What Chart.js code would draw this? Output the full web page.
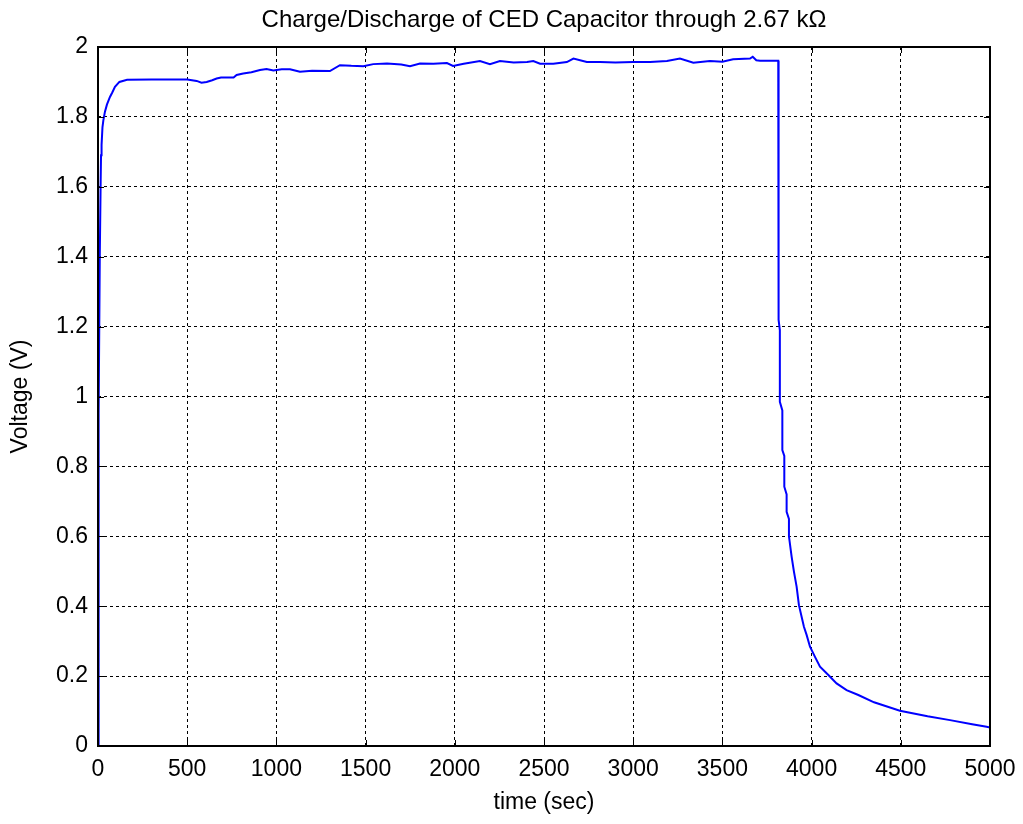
<!DOCTYPE html>
<html>
<head>
<meta charset="utf-8">
<script src="https://cdn.jsdelivr.net/npm/chart.js@4/dist/chart.umd.min.js"></script>
<style>
  html, body { margin: 0; padding: 0; background: #fff; }
  #wrap { width: 1023px; height: 824px; }
</style>
</head>
<body>
<div id="wrap"><canvas id="capChart" width="1023" height="824"></canvas></div>
<script>
const timeSec = [
  0, 2, 5, 10, 15, 17, 20, 25, 30, 39, 50, 67, 80, 95, 120, 163,
  300, 500, 553, 580, 609, 640, 665, 690, 760, 777, 814, 860, 908, 945, 983,
  1030, 1076, 1132, 1200, 1300, 1356, 1420, 1487, 1543, 1620, 1700, 1749,
  1805, 1880, 1956, 1990, 2050, 2141, 2197, 2253, 2330, 2405, 2440, 2478,
  2552, 2628, 2665, 2740, 2814, 2900, 3000, 3095, 3189, 3262, 3337, 3430,
  3500, 3560, 3655, 3670, 3690, 3711, 3813,
  3814, 3816, 3822, 3822, 3836, 3836, 3847, 3847, 3860, 3860, 3873, 3873,
  3888, 3901, 3916, 3929, 3944, 3957, 3972, 3991, 4019, 4047, 4094, 4140,
  4196, 4262, 4350, 4495, 4650, 4776, 4900, 4981, 5000
];
const voltage = [
  0.0, 0.45, 0.95, 1.40, 1.62, 1.69, 1.72, 1.77, 1.79, 1.815, 1.835, 1.857, 1.870, 1.886, 1.900, 1.906,
  1.907, 1.907, 1.903, 1.898, 1.900, 1.905, 1.910, 1.913, 1.913, 1.920, 1.924, 1.928, 1.934, 1.937, 1.933,
  1.936, 1.936, 1.929, 1.932, 1.931, 1.948, 1.946, 1.945, 1.951, 1.953, 1.950, 1.945,
  1.953, 1.952, 1.954, 1.946, 1.952, 1.960, 1.951, 1.960, 1.956, 1.957, 1.960, 1.952,
  1.952, 1.957, 1.967, 1.957, 1.957, 1.956, 1.957, 1.957, 1.960, 1.967, 1.955, 1.960,
  1.958, 1.965, 1.967, 1.972, 1.962, 1.961, 1.961,
  1.60, 1.219, 1.19, 0.985, 0.96, 0.847, 0.83, 0.742, 0.72, 0.670, 0.65, 0.600,
  0.542, 0.499, 0.456, 0.403, 0.370, 0.341, 0.318, 0.284, 0.255, 0.227, 0.203, 0.179,
  0.160, 0.146, 0.125, 0.101, 0.085, 0.074, 0.062, 0.055, 0.053
];

const xTicksMax = 5000;
const xTickStep = 500;
const yTicksMax = 2;
const yTickStep = 0.2;
const chartTitle = 'Charge/Discharge of CED Capacitor through 2.67 k\u03A9';

const FONT = "'Liberation Sans', Arial, Helvetica, sans-serif";

// box around the axes, inward tick marks and a title centred on the axes (MATLAB style)
const boxPlugin = {
  id: 'matlabBox',
  afterDraw(chart) {
    const { ctx, chartArea: a, scales } = chart;
    ctx.save();
    ctx.strokeStyle = '#000';
    ctx.lineWidth = 1;
    ctx.setLineDash([]);
    ctx.beginPath();
    const tk = 6;
    scales.x.ticks.forEach(t => {
      const px = Math.round(scales.x.getPixelForValue(t.value)) + 0.5;
      ctx.moveTo(px, a.bottom); ctx.lineTo(px, a.bottom - tk);
      ctx.moveTo(px, a.top); ctx.lineTo(px, a.top + tk);
    });
    scales.y.ticks.forEach(t => {
      const py = Math.round(scales.y.getPixelForValue(t.value)) + 0.5;
      ctx.moveTo(a.left, py); ctx.lineTo(a.left + tk, py);
      ctx.moveTo(a.right, py); ctx.lineTo(a.right - tk, py);
    });
    ctx.stroke();
    ctx.lineWidth = 2;
    ctx.strokeRect(a.left, a.top, a.right - a.left, a.bottom - a.top);

    ctx.fillStyle = '#000';
    ctx.font = '24px ' + FONT;
    ctx.textAlign = 'center';
    ctx.textBaseline = 'middle';
    ctx.fillText(chartTitle, (a.left + a.right) / 2, 20);
    ctx.restore();
  }
};

const ctx = document.getElementById('capChart').getContext('2d');
const chart = new Chart(ctx, {
  type: 'line',
  data: {
    datasets: [{
      data: timeSec.map((t, i) => ({ x: t, y: voltage[i] })),
      borderColor: '#0000ff',
      borderWidth: 2,
      pointRadius: 0,
      fill: false,
      tension: 0
    }]
  },
  options: {
    responsive: false,
    animation: false,
    devicePixelRatio: 1,
    layout: { padding: { left: 0, right: 33, top: 47, bottom: 0 } },
    plugins: {
      legend: { display: false },
      tooltip: { enabled: false },
      title: { display: false }
    },
    scales: {
      x: {
        type: 'linear',
        min: 0,
        max: xTicksMax,
        afterFit: s => { s.height = 78; s.paddingLeft = 0; s.paddingRight = 0; },
        ticks: {
          stepSize: xTickStep,
          color: '#000',
          padding: 10,
          maxRotation: 0,
          font: { family: FONT, size: 23 },
          callback: v => String(v)
        },
        grid: {
          color: '#000',
          lineWidth: 1,
          drawTicks: false
        },
        border: { display: false, dash: [3, 3] },
        title: {
          display: true,
          text: 'time (sec)',
          color: '#000',
          font: { family: FONT, size: 23 },
          padding: { top: 0, bottom: 8 }
        }
      },
      y: {
        min: 0,
        max: yTicksMax,
        afterFit: s => { s.width = 98; s.paddingTop = 0; s.paddingBottom = 0; },
        ticks: {
          stepSize: yTickStep,
          color: '#000',
          padding: 10,
          font: { family: FONT, size: 23 },
          callback: v => String(+v.toFixed(1))
        },
        grid: {
          color: '#000',
          lineWidth: 1,
          drawTicks: false
        },
        border: { display: false, dash: [3, 3] },
        title: {
          display: true,
          text: 'Voltage (V)',
          color: '#000',
          font: { family: FONT, size: 23 },
          padding: { top: 7, bottom: 0 }
        }
      }
    }
  },
  plugins: [boxPlugin]
});
</script>
</body>
</html>
